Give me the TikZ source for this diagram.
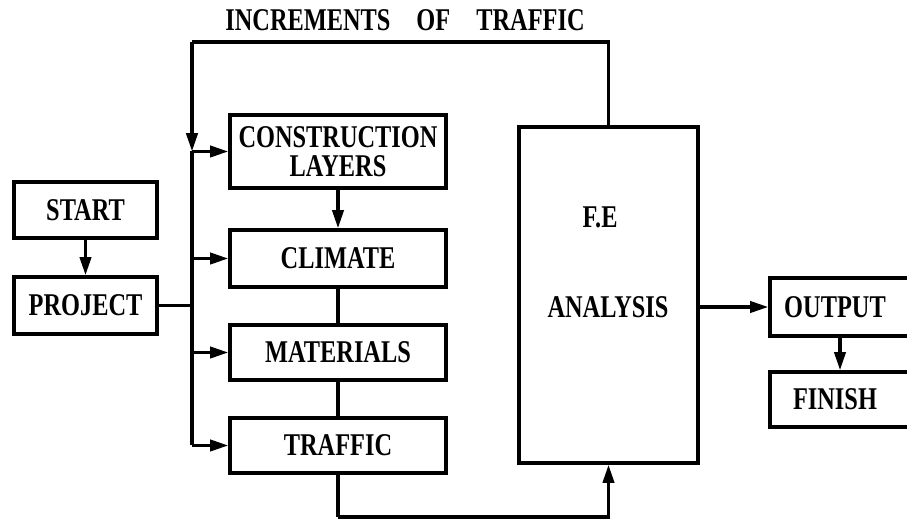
\documentclass[tikz,border=0pt]{standalone}
\usepackage{fontspec}
\setmainfont{Liberation Serif}
\newfontfamily\flowfont[FakeStretch=0.77]{Liberation Serif Bold}
\usetikzlibrary{arrows.meta}

\begin{document}
\begin{tikzpicture}[x=0.025cm,y=-0.025cm,
    font=\flowfont\fontsize{22.5}{21}\selectfont,
    line width=2.4pt,
    block/.style={draw,inner sep=0pt,align=center},
    arr/.style={-{Triangle[length=13pt,width=8pt]}}]

  \useasboundingbox (0,0) rectangle (907,523);

  % Input side
  \node[block,minimum width=143*0.025cm,minimum height=56*0.025cm] (start) at (85.5,210) {START};
  \node[block,minimum width=143*0.025cm,minimum height=57*0.025cm] (project) at (85.5,305.5) {PROJECT};

  % Data boxes
  \node[block,minimum width=216*0.025cm,minimum height=73*0.025cm] (layers) at (338,151.5)
    {CONSTRUCTION\\LAYERS};
  \node[block,minimum width=216*0.025cm,minimum height=57*0.025cm] (climate) at (338,258.5) {CLIMATE};
  \node[block,minimum width=216*0.025cm,minimum height=55*0.025cm] (materials) at (338,352.5) {MATERIALS};
  \node[block,minimum width=216*0.025cm,minimum height=55*0.025cm] (traffic) at (338,445.5) {TRAFFIC};

  % Analysis
  \node[block,minimum width=179*0.025cm,minimum height=336*0.025cm] (fe) at (608.5,295) {};
  \node (fetitle) at (600,217) {F.E};
  \node (analysis) at (608,307) {ANALYSIS};

  % Output side (boxes run off the right edge)
  \node[block,minimum width=164*0.025cm,minimum height=58*0.025cm] (output) at (852,307)
    {OUTPUT\hspace{0.85cm}};
  \node[block,minimum width=164*0.025cm,minimum height=55*0.025cm] (finish) at (852,399.5)
    {FINISH\hspace{0.85cm}};

  % Feedback loop
  \coordinate (bustop) at (192,42);
  \coordinate (busend) at (192,445.5);
  \coordinate (low) at (338,517);
  \node (loop) at (405,20) {INCREMENTS\hspace{0.65cm}OF\hspace{0.65cm}TRAFFIC};

  % Connectors
  \draw[arr] (start) -- (project);
  \draw (project.east) -- (project.east -| bustop);
  \draw (fe.north) |- (bustop);
  \draw[arr] (bustop) -- (layers.west -| bustop);
  \draw (layers.west -| bustop) -- (busend);
  \draw[arr] (layers.west -| bustop) -- (layers.west);
  \draw[arr] (climate.west -| bustop) -- (climate.west);
  \draw[arr] (materials.west -| bustop) -- (materials.west);
  \draw[arr] (busend) -- (traffic.west);
  \draw[arr] (layers) -- (climate);
  \draw (climate) -- (materials);
  \draw (materials) -- (traffic);
  \draw (traffic.south) -- (low);
  \draw[arr] (low) -| (fe.south);
  \draw[arr] (fe.east |- output.west) -- (output.west);
  \draw[arr] (output.south -| 840,0) -- (finish.north -| 840,0);

\end{tikzpicture}
\end{document}
